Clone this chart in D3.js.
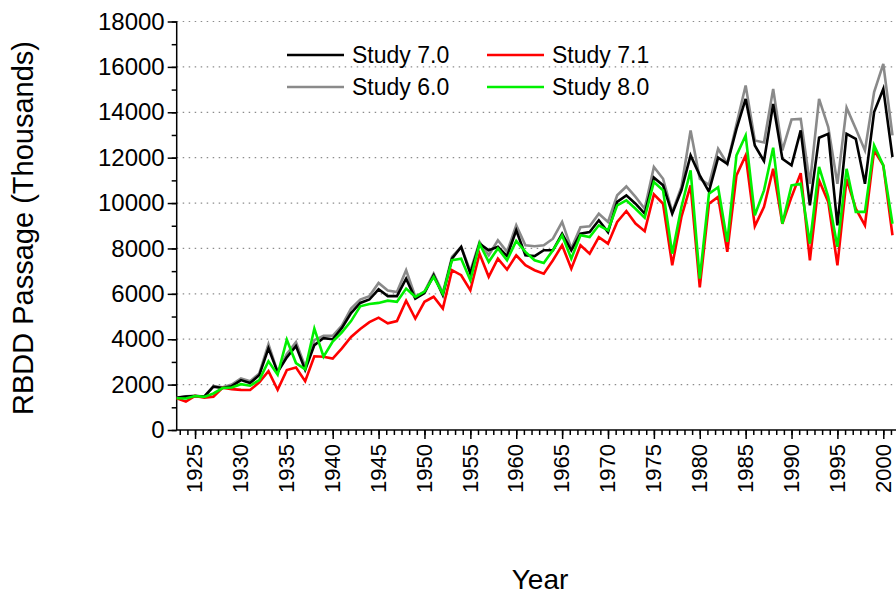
<!DOCTYPE html>
<html><head><meta charset="utf-8">
<script src="https://cdn.jsdelivr.net/npm/d3@7"></script>
<style>
html,body{margin:0;padding:0;background:#fff;overflow:hidden}
text{font-family:"Liberation Sans",Arial,sans-serif;fill:#000}
</style></head>
<body>
<svg id="chart" width="896" height="596"></svg>
<script>
const years = d3.range(1923, 2002);
const study70 = [1420,1470,1500,1470,1910,1850,1930,2200,2070,2420,3600,2550,3200,3700,2650,3740,4050,4000,4500,5150,5600,5750,6200,5900,5900,6670,5790,6030,6820,5940,7550,8070,6890,8210,7920,8070,7660,8800,7700,7660,7920,7920,8650,7920,8650,8720,9240,8720,10050,10340,9970,9530,11120,10780,9530,10560,12100,11220,10500,12000,11730,13270,14590,12540,11850,14370,11950,11660,13200,9900,12880,13050,9020,13050,12830,10850,14010,15030,12030];
const study60 = [1430,1480,1510,1470,1930,1880,2000,2270,2150,2490,3780,2550,3350,3870,2790,3960,4150,4150,4600,5350,5750,5900,6480,6150,6080,7040,5870,6100,6890,6050,7630,8070,7000,8290,7700,8360,7850,9020,8140,8100,8140,8430,9170,8000,8940,8980,9530,9170,10340,10730,10270,9750,11590,11070,9600,10710,13200,11070,10800,12390,11730,13470,15180,12760,12670,15030,12320,13680,13710,10850,14590,13350,10850,14200,13270,12320,14890,16130,12980];
const study71 = [1400,1250,1500,1420,1470,1860,1800,1770,1760,2100,2590,1770,2640,2750,2150,3250,3230,3150,3600,4100,4450,4750,4950,4700,4800,5700,4910,5650,5870,5350,7040,6820,6160,7770,6750,7550,7070,7700,7260,7040,6890,7480,8140,7110,8140,7770,8500,8210,9170,9650,9100,8760,10380,9970,7260,9390,10780,6280,9970,10270,7850,11220,12100,8980,9830,11510,9090,10270,11320,7480,11000,10050,7260,11070,9750,9020,12320,11660,8580];
const study80 = [1400,1390,1500,1460,1610,1850,1870,2020,1950,2200,3030,2440,3980,2950,2670,4470,3230,3900,4300,4800,5450,5550,5600,5700,5650,6230,5870,6100,6750,6000,7480,7550,6600,8210,7410,8000,7480,8330,7850,7480,7360,7920,8580,7550,8580,8500,9020,8800,9900,10120,9750,9350,10930,10560,7770,9830,11440,6670,10410,10700,8290,12100,12980,9460,10560,12440,9090,10780,10850,8210,11590,10270,8070,11510,9610,9610,12540,11660,9090];
const seriesNames = ["Study 7.0","Study 7.1","Study 6.0","Study 8.0"];
const seriesColors = {"Study 7.0":"#000000","Study 7.1":"#ff0000","Study 6.0":"#8a8a8a","Study 8.0":"#00f000"};
const yTicks = [0,2000,4000,6000,8000,10000,12000,14000,16000,18000];
const xTicks = [1925,1930,1935,1940,1945,1950,1955,1960,1965,1970,1975,1980,1985,1990,1995,2000];

const svg = d3.select("#chart");
const W = 896;
const x = d3.scaleLinear().domain([1923, 2000]).range([176.7, 883.3]);
const y = d3.scaleLinear().domain([0, 18000]).range([430, 21.5]);

// gridlines
svg.append("g").selectAll("line").data(yTicks.filter(d => d > 0)).join("line")
  .attr("x1", x(1923)).attr("x2", W).attr("y1", d => y(d)).attr("y2", d => y(d))
  .attr("stroke", "#8c8c8c").attr("stroke-width", 1.2).attr("stroke-dasharray", "1.5,4.5");

// axes
const yMinor = d3.range(0, 18001, 1000);
const gy = svg.append("g").attr("transform", `translate(${x(1923)},0)`);
gy.call(d3.axisLeft(y).tickValues(yMinor).tickSize(5).tickFormat(""));
gy.call(g => g.select(".domain").remove());
const gy2 = svg.append("g").attr("transform", `translate(${x(1923)},0)`);
gy2.call(d3.axisLeft(y).tickValues(yTicks).tickSize(9).tickPadding(3).tickFormat(d3.format("d")));
gy2.selectAll("text").style("font-size", "24px").attr("fill", "#000");
gy2.select(".domain").attr("d", `M0,${y(18000)}V${y(0)}`);
gy.selectAll("line, path").attr("stroke", "#000").attr("stroke-width", 1.5);
gy2.selectAll("line, path").attr("stroke", "#000").attr("stroke-width", 1.5);

const xMinor = d3.range(-3, 95).map(k => 1925 + k * 5 / 6).filter(v => x(v) >= x(1923) - 0.5 && x(v) <= W);
const gx = svg.append("g").attr("transform", `translate(0,${y(0)})`);
gx.call(d3.axisBottom(x).tickValues(xMinor).tickSize(5).tickFormat(""));
gx.call(g => g.select(".domain").remove());
const gx2 = svg.append("g").attr("transform", `translate(0,${y(0)})`);
gx2.call(d3.axisBottom(x).tickValues(xTicks).tickSize(9).tickFormat(d3.format("d")));
gx2.select(".domain").attr("d", `M${x(1923)},0H${W}`);
gx2.selectAll("text").style("font-size", "22px").attr("fill", "#000")
  .attr("text-anchor", "end").attr("y", 0).attr("dy", "0.35em")
  .attr("transform", "translate(-1,14) rotate(-90)");
gx.selectAll("line, path").attr("stroke", "#000").attr("stroke-width", 1.5);
gx2.selectAll("line, path").attr("stroke", "#000").attr("stroke-width", 1.5);

// lines
const dataBy = {"Study 7.0": study70, "Study 7.1": study71, "Study 6.0": study60, "Study 8.0": study80};
const drawOrder = ["Study 6.0", "Study 7.0", "Study 7.1", "Study 8.0"];
const line = d3.line().x((d, i) => x(years[i])).y(d => y(d));
svg.append("g").selectAll("path").data(drawOrder).join("path")
  .attr("d", n => line(dataBy[n]))
  .attr("fill", "none").attr("stroke", n => seriesColors[n])
  .attr("stroke-width", 2.6).attr("stroke-linejoin", "miter");

// legend
const legPos = [[287, 55], [487, 55], [287, 87], [487, 87]];
const lg = svg.append("g");
seriesNames.forEach((n, i) => {
  const [lx, ly] = legPos[i];
  lg.append("line").attr("x1", lx).attr("x2", lx + 57).attr("y1", ly).attr("y2", ly)
    .attr("stroke", seriesColors[n]).attr("stroke-width", 2.6);
  lg.append("text").attr("x", lx + 65).attr("y", ly).attr("dy", "0.35em")
    .style("font-size", "23px").text(n);
});

// axis titles
svg.append("text").attr("transform", "translate(23,228) rotate(-90)")
  .attr("text-anchor", "middle").attr("dy", "0.35em").style("font-size", "29px")
  .text("RBDD Passage (Thousands)");
svg.append("text").attr("x", 540).attr("y", 589).attr("text-anchor", "middle")
  .style("font-size", "28px").text("Year");
</script>
</body></html>
